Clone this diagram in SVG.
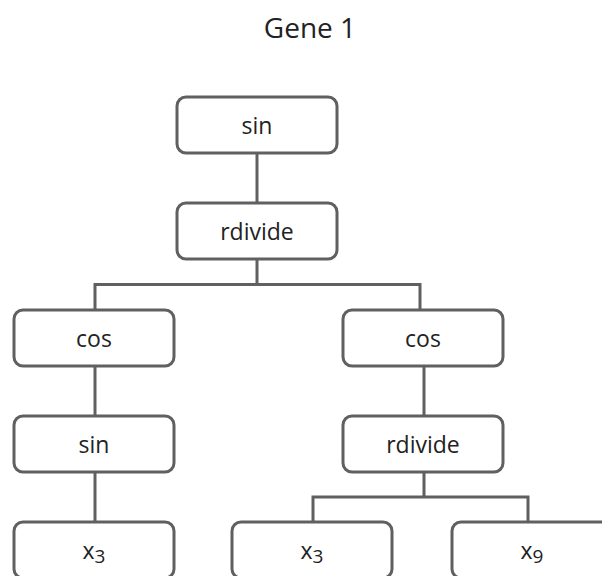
<svg xmlns="http://www.w3.org/2000/svg" width="602" height="576" viewBox="0 0 602 576">
<style>
.box{fill:#ffffff;stroke:#606060;stroke-width:3}
.lbl{font-family:"Open Sans","Noto Sans",sans-serif;font-size:23px;fill:#222222;text-anchor:middle}
.title{font-family:"Open Sans","Noto Sans",sans-serif;font-size:28px;fill:#222222;text-anchor:middle}
.edge{fill:none;stroke:#606060;stroke-width:3}
</style>
<rect width="602" height="576" fill="#ffffff"/>
<text class="title" x="310" y="38">Gene 1</text>
<g id="connectors">
<path class="edge" d="M257 153 V203"/>
<path class="edge" d="M257 259 V284.5 M95 310 V284.5 H420 V310"/>
<path class="edge" d="M95 366 V416"/>
<path class="edge" d="M424 366 V416"/>
<path class="edge" d="M95 472 V522"/>
<path class="edge" d="M424 472 V497 M313 522 V497 H528 V522"/>
</g>
<g id="n1"><rect class="box" x="177" y="97" width="160" height="56" rx="9"/><text class="lbl" x="257" y="134">sin</text></g>
<g id="n2"><rect class="box" x="177" y="203" width="160" height="56" rx="9"/><text class="lbl" x="257" y="240">rdivide</text></g>
<g id="n3"><rect class="box" x="14" y="310" width="160" height="56" rx="9"/><text class="lbl" x="94" y="347">cos</text></g>
<g id="n4"><rect class="box" x="343" y="310" width="160" height="56" rx="9"/><text class="lbl" x="423" y="347">cos</text></g>
<g id="n5"><rect class="box" x="14" y="416" width="160" height="56" rx="9"/><text class="lbl" x="94" y="453">sin</text></g>
<g id="n6"><rect class="box" x="343" y="416" width="160" height="56" rx="9"/><text class="lbl" x="423" y="453">rdivide</text></g>
<g id="n7"><rect class="box" x="14" y="522" width="160" height="56" rx="9"/><text class="lbl" x="94" y="559">x<tspan font-size="19" dy="4">3</tspan></text></g>
<g id="n8"><rect class="box" x="232" y="522" width="160" height="56" rx="9"/><text class="lbl" x="312" y="559">x<tspan font-size="19" dy="4">3</tspan></text></g>
<g id="n9"><rect class="box" x="452" y="522" width="160" height="56" rx="9"/><text class="lbl" x="532" y="559">x<tspan font-size="19" dy="4">9</tspan></text></g>
</svg>
